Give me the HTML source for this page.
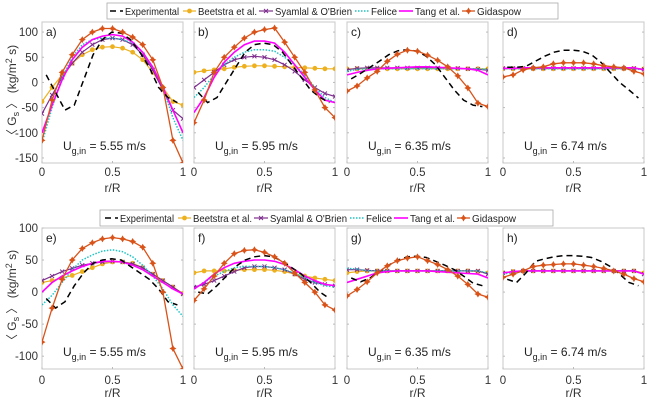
<!DOCTYPE html>
<html><head><meta charset="utf-8">
<style>
html,body{margin:0;padding:0;background:#fff;}
svg{display:block;font-family:"Liberation Sans",sans-serif;}
</style></head>
<body>
<svg id="chart" width="647" height="400" viewBox="0 0 647 400" xmlns="http://www.w3.org/2000/svg"></svg>
<script>
// ---- data ----
const rGrid = [0,0.0714,0.1429,0.2143,0.2857,0.3571,0.4286,0.5,0.5714,0.6429,0.7143,0.7857,0.8571,0.9286,1];
const seriesNames = ["Experimental","Beetstra et al.","Syamlal & O'Brien","Felice","Tang et al.","Gidaspow"];
const panelLabels = ["a)","b)","c)","d)","e)","f)","g)","h)"];
const velocityLabels = ["5.55","5.95","6.35","6.74","5.55","5.95","6.35","6.74"];
const xTicks = [0,0.5,1];
const yTicksTop = [-150,-100,-50,0,50,100];
const yTicksBottom = [-100,-50,0,50,100];

const expA=[15,-20,-55,-45,5,55,85,100,98,85,60,30,-10,-30,-40];
const beeA=[-38,-10,15,38,55,65,70,71,68,60,45,20,-10,-38,-45];
const syaA=[-62,-25,10,38,60,75,85,88,85,75,55,25,-15,-55,-72];
const felA=[-120,-50,10,50,75,85,88,88,85,78,60,30,-10,-70,-115];
const tanA=[-100,-45,5,45,70,85,92,95,92,80,60,30,-10,-55,-100];
const gidA=[-115,-35,20,55,85,100,107,107,100,90,75,45,-10,-115,-160];

const expB=[-20,-40,-30,0,30,60,75,78,75,60,35,10,-15,-30,-40];
const beeB=[20,23,25,27,30,32,33,33,32,31,30,29,28,27,27];
const syaB=[-10,5,20,35,45,50,52,50,45,35,22,5,-10,-22,-28];
const felB=[-30,-10,15,35,50,60,65,65,62,50,35,15,-10,-30,-40];
const tanB=[-60,-30,10,40,60,75,82,82,78,60,35,10,-15,-35,-40];
const gidB=[-80,-35,20,50,70,88,100,105,108,80,50,20,-15,-50,-70];

const expC=[7,18,30,42,55,63,65,62,52,35,10,-15,-35,-45,-48];
const beeC=[27,27,27,27,27,27,27,27,27,27,27,27,27,27,27];
const syaC=[25,28,29,29,29,29,29,29,29,29,29,28,27,26,24];
const felC=[22,26,27,27,27,27,27,27,27,27,27,27,27,27,26];
const tanC=[15,20,24,27,28,29,30,31,31,30,29,28,27,24,15];
const gidC=[-17,-7,9,22,42,56,64,62,54,44,31,13,-11,-41,-48];

const expD=[30,30,32,42,52,60,64,64,62,55,40,20,0,-15,-31];
const beeD=[27,27,27,27,27,27,27,27,27,27,27,27,27,27,27];
const syaD=[28,28,28,28,28,28,28,28,28,28,28,28,28,28,26];
const felD=[27,27,27,27,27,27,27,27,27,27,27,27,27,27,25];
const tanD=[28,28,29,29,29,29,29,29,29,29,29,29,29,29,25];
const gidD=[11,15,25,29,31,37,39,39,39,37,33,31,29,22,17];

const expE=[-10,-25,-15,10,30,45,50,52,50,40,30,20,5,-15,-20];
const beeE=[15,18,22,26,32,38,44,47,47,45,38,28,18,8,-2];
const syaE=[18,25,32,37,42,45,47,48,47,44,38,28,18,8,-3];
const felE=[-20,-5,15,35,50,58,64,66,63,55,42,25,5,-20,-38];
const tanE=[0,15,25,33,40,45,48,48,47,42,35,25,15,5,-3];
const gidE=[-78,-25,20,50,68,77,83,85,83,79,70,45,0,-88,-120];

const expF=[0,-3,10,25,40,50,55,57,55,48,38,28,15,0,-10];
const beeF=[30,33,33,33,34,35,35,35,34,32,28,25,22,20,18];
const syaF=[8,12,18,25,32,38,40,40,38,35,28,20,15,12,10];
const felF=[5,15,25,32,38,40,40,40,38,35,30,22,15,10,8];
const tanF=[5,15,28,38,45,48,50,50,48,43,35,25,18,12,10];
const gidF=[-13,5,25,45,60,65,66,62,55,45,30,15,0,-20,-28];

const expG=[22,16,22,32,42,50,55,56,54,48,42,35,25,14,10];
const beeG=[30,32,33,33,33,33,33,33,33,33,33,33,33,32,30];
const syaG=[35,35,34,33,33,33,33,33,33,33,33,33,33,33,28];
const felG=[37,36,33,33,33,33,33,33,33,33,33,33,33,33,30];
const tanG=[15,20,25,30,32,33,33,33,33,32,31,30,29,28,22];
const gidG=[-6,4,16,30,41,49,53,55,49,43,35,25,12,-3,-8];

const expH=[20,15,30,48,52,55,57,57,56,54,48,40,28,15,10];
const beeH=[30,32,33,33,33,33,33,33,33,33,33,33,33,33,30];
const syaH=[30,32,33,33,33,33,33,33,33,33,33,33,33,33,28];
const felH=[28,31,32,33,33,33,33,33,33,33,33,33,33,33,28];
const tanH=[30,32,33,33,33,33,33,33,33,33,33,33,33,33,28];
const gidH=[23,28,33,40,42,43,44,44,42,40,37,33,28,21,16];

const panelData=[
 [expA,beeA,syaA,felA,tanA,gidA],[expB,beeB,syaB,felB,tanB,gidB],
 [expC,beeC,syaC,felC,tanC,gidC],[expD,beeD,syaD,felD,tanD,gidD],
 [expE,beeE,syaE,felE,tanE,gidE],[expF,beeF,syaF,felF,tanF,gidF],
 [expG,beeG,syaG,felG,tanG,gidG],[expH,beeH,syaH,felH,tanH,gidH]];

// ---- rendering ----
const NS="http://www.w3.org/2000/svg";
const svg=document.getElementById('chart');
function mk(tag,attrs,parent){const e=document.createElementNS(NS,tag);for(const k in attrs)e.setAttribute(k,attrs[k]);(parent||svg).appendChild(e);return e;}
const colors=["#000","#EDB120","#7E2F8E","#1FC4C4","#FF00FF","#D95319"];
const dashes=["6,4","","","1.5,1.5","",""];
const widths=[1.5,1.2,1.2,1.5,1.6,1.3];
const colX=[42,194,347,503];
const W=141;
const rows=[{top:22,h:141,min:-160,max:120,ticks:yTicksTop,lab:172,rr:188,ann:150},
            {top:228,h:141,min:-120,max:100,ticks:yTicksBottom,lab:380,rr:393,ann:356}];

function legend(x0,y0,x1,offs){
  const g=mk('g',{});
  
  
  mk('rect',{x:x0,y:y0,width:x1-x0,height:16,fill:'#fff',stroke:'#aaa','stroke-width':0.8},g);
  const pos=[[110,125,54],[183,198,59],[259,275,77],[355,371,26],[399,415,45],[462,477,44]];
  for(let i=0;i<6;i++){
    const e=mk('g',{},g);
    
    
    const a=pos[i][0]+offs,b=pos[i][1]+offs-2,cy=y0+8;
    mk('line',{x1:a,y1:cy,x2:b,y2:cy,stroke:colors[i],'stroke-width':widths[i],'stroke-dasharray':dashes[i]},e);
    marker(e,i,(a+b)/2,cy);
    const t=mk('text',{x:pos[i][1]+offs,y:cy+4,'font-size':10.5,fill:'#222',textLength:pos[i][2],lengthAdjust:'spacingAndGlyphs'},e);
    t.textContent=seriesNames[i];
  }
}
function marker(g,i,x,y){
  if(i===1) mk('circle',{cx:x,cy:y,r:2.4,fill:colors[1]},g);
  else if(i===2){mk('path',{d:`M${x-2} ${y-2}L${x+2} ${y+2}M${x-2} ${y+2}L${x+2} ${y-2}`,stroke:colors[2],'stroke-width':1},g);}
  else if(i===5){mk('path',{d:`M${x} ${y-3.5}L${x+1.3} ${y-1.3}L${x+3.5} ${y}L${x+1.3} ${y+1.3}L${x} ${y+3.5}L${x-1.3} ${y+1.3}L${x-3.5} ${y}L${x-1.3} ${y-1.3}Z`,fill:colors[5]},g);}
}
legend(107,3,558,0);
legend(100,210,553,-5);

for(let p=0;p<8;p++){
  const row=rows[Math.floor(p/4)], x0=colX[p%4];
  const sx=v=>x0+v*W;
  const sy=v=>row.top+(row.max-v)/(row.max-row.min)*row.h;
  const g=mk('g',{});
  
  
  const clipId='clip'+p;
  const cp=mk('clipPath',{id:clipId},g);
  mk('rect',{x:x0,y:row.top,width:W,height:row.h},cp);
  mk('rect',{x:x0,y:row.top,width:W,height:row.h,fill:'#fff',stroke:'#c8c8c8','stroke-width':1},g);
  row.ticks.forEach(v=>{
    mk('line',{x1:x0,y1:sy(v),x2:x0+2,y2:sy(v),stroke:'#bbb'},g);
    mk('line',{x1:x0+W,y1:sy(v),x2:x0+W-2,y2:sy(v),stroke:'#bbb'},g);
    if(p%4===0){const t=mk('text',{x:x0-4,y:sy(v)+4,'font-size':11.5,'text-anchor':'end',fill:'#333'},g);t.textContent=v;
      }
  });
  xTicks.forEach(v=>{
    mk('line',{x1:sx(v),y1:row.top+row.h,x2:sx(v),y2:row.top+row.h-2,stroke:'#bbb'},g);
    const t=mk('text',{x:sx(v),y:row.lab+4,'font-size':11.5,'text-anchor':'middle',fill:'#333'},g);t.textContent=v;
    
  });
  const xt=mk('text',{x:x0+W/2,y:row.rr+4,'font-size':12,'text-anchor':'middle',fill:'#333'},g);xt.textContent='r/R';
  
  const lines=mk('g',{'clip-path':`url(#${clipId})`},g);
  const order=[1,2,3,4,0,5];
  order.forEach(i=>{
    const vals=panelData[p][i];
    let d='';
    vals.forEach((v,k)=>{let xv=rGrid[k]; if(i===0) xv=0.03+rGrid[k]*0.93; d+=(k?'L':'M')+sx(xv).toFixed(1)+' '+sy(v).toFixed(1);});
    const s=mk('path',{d:d,fill:'none',stroke:colors[i],'stroke-width':widths[i],'stroke-dasharray':dashes[i]},lines);
    
    
    if(i===1||i===2||i===5) vals.forEach((v,k)=>marker(lines,i,sx(rGrid[k]),sy(v)));
  });
  const pl=mk('text',{x:x0+4,y:row.top+14,'font-size':12,fill:'#222'},g);pl.textContent=panelLabels[p];
  
  const an=mk('text',{x:x0+21,y:row.ann,'font-size':12,fill:'#222'},g);
  
  an.innerHTML='U<tspan font-size="9" dy="4">g,in</tspan><tspan dy="-4"> = '+velocityLabels[p]+' m/s</tspan>';
}
[[93],[298]].forEach(([cy])=>{
  const t=mk('text',{x:0,y:0,'font-size':12,'text-anchor':'middle',fill:'#333',transform:`translate(16,${cy}) rotate(-90)`});
  
  t.innerHTML='〈 G<tspan font-size="9" dy="3">s</tspan><tspan dy="-3"> 〉 (kg/m</tspan><tspan font-size="9" dy="-4">2</tspan><tspan dy="4"> s)</tspan>';
});
</script>
</body></html>
